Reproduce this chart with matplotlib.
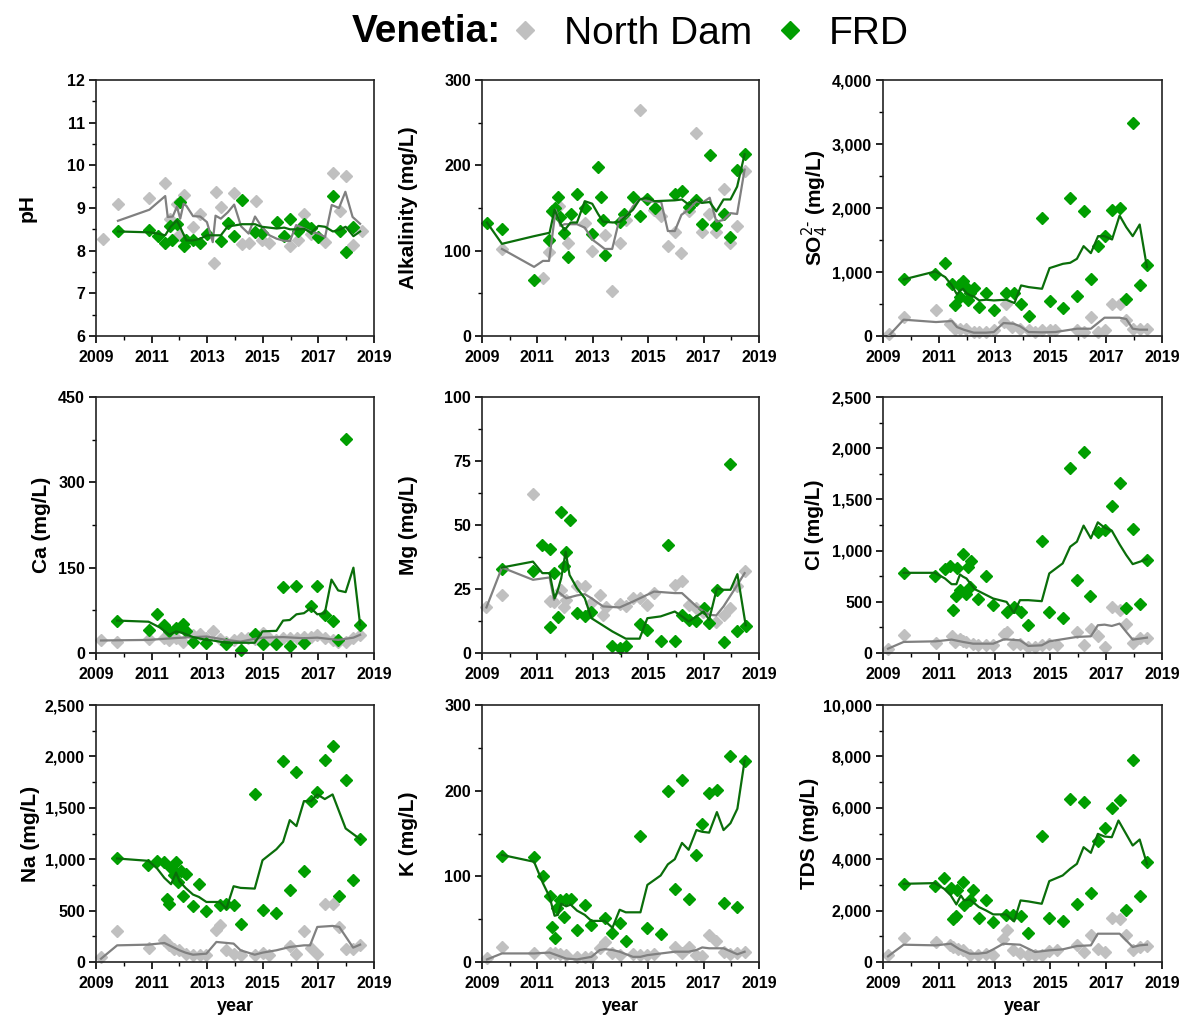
import numpy as np
import matplotlib
matplotlib.use("Agg")
import matplotlib.pyplot as plt
from matplotlib.lines import Line2D
from matplotlib.ticker import MultipleLocator, FuncFormatter

plt.rcParams['font.family'] = ['Liberation Sans', 'DejaVu Sans']

# ---------------- DATA (year, value) ----------------
PH_ND = [(2009.24,8.28),(2009.79,9.1),(2010.92,9.24),(2011.49,9.59),(2011.67,8.75),(2011.91,9.1),(2011.98,8.36),
         (2012.15,9.3),(2012.49,8.56),(2012.75,8.85),(2013.23,7.71),(2013.31,9.38),(2013.49,9.03),(2013.97,9.34),
         (2014.25,8.15),(2014.51,8.18),(2014.75,9.16),(2014.96,8.24),(2015.24,8.17),(2015.98,8.1),(2016.25,8.26),
         (2016.49,8.87),(2016.74,8.38),(2017.24,8.2),(2017.52,9.82),(2017.76,8.93),(2017.98,9.74),(2018.26,8.13),(2018.56,8.45)]
PH_FRD = [(2009.79,8.45),(2010.92,8.48),(2011.23,8.35),(2011.49,8.17),(2011.65,8.58),(2011.74,8.26),(2011.91,8.63),
          (2012.03,9.15),(2012.15,8.11),(2012.25,8.24),(2012.49,8.24),(2012.75,8.18),(2012.99,8.4),(2013.49,8.23),
          (2013.74,8.64),(2013.97,8.35),(2014.25,9.18),(2014.72,8.43),(2014.96,8.42),(2015.50,8.67),(2015.77,8.34),
          (2015.98,8.74),(2016.25,8.45),(2016.49,8.62),(2016.74,8.53),(2017.0,8.32),(2017.52,9.28),(2017.76,8.45),
          (2017.98,7.97),(2018.26,8.56)]
PH_ND_AVG = [(2009.79,8.7),(2010.92,8.96),(2011.49,9.28),(2011.58,8.79),(2011.76,8.8),(2011.91,9.03),(2012.03,8.75),
             (2012.15,9.1),(2012.25,9.05),(2012.49,8.81),(2012.75,8.8),(2012.99,8.67),(2013.2,8.2),(2013.3,8.82),
             (2013.49,8.75),(2013.74,8.9),(2013.97,9.08),(2014.22,8.57),(2014.49,8.4),(2014.72,8.8),(2014.96,8.56),
             (2015.24,8.36),(2015.5,8.28),(2015.77,8.23),(2015.98,8.23),(2016.2,8.6),(2016.49,8.52),(2016.74,8.44),
             (2017.0,8.4),(2017.24,8.32),(2017.48,9.07),(2017.74,9.0),(2017.97,9.38),(2018.23,8.79),(2018.5,8.63)]
PH_FRD_AVG = [(2009.79,8.45),(2010.92,8.43),(2011.23,8.40),(2011.49,8.36),(2011.67,8.55),(2011.91,8.71),(2012.03,8.55),
              (2012.25,8.24),(2012.49,8.24),(2012.75,8.28),(2012.99,8.36),(2013.49,8.36),(2013.74,8.57),(2013.97,8.59),
              (2014.25,8.62),(2014.72,8.62),(2014.96,8.56),(2015.50,8.52),(2015.77,8.54),(2015.98,8.5),(2016.25,8.5),
              (2016.49,8.51),(2016.74,8.42),(2017.0,8.58),(2017.24,8.56),(2017.52,8.45),(2017.76,8.49),(2017.98,8.56),
              (2018.26,8.34),(2018.5,8.45)]

ALK_ND = [(2009.72,102),(2011.2,68),(2011.42,99),(2011.78,152),(2012.1,109),(2012.71,132),(2012.98,100),(2013.43,118),
          (2013.7,53),(2013.97,109),(2014.21,136),(2014.72,265),(2015.21,148),(2015.47,141),(2015.71,105),(2015.96,122),
          (2016.2,97),(2016.46,146),(2016.74,238),(2016.94,122),(2017.2,143),(2017.46,122),(2017.72,172),(2017.97,109),
          (2018.21,129),(2018.48,193)]
ALK_FRD = [(2009.18,133),(2009.72,125),(2010.88,66),(2011.42,112),(2011.54,146),(2011.63,150),(2011.75,163),(2011.83,140),
           (2011.95,121),(2012.1,92),(2012.2,143),(2012.43,166),(2012.71,150),(2012.98,120),(2013.19,198),(2013.28,163),
           (2013.37,136),(2013.43,95),(2013.99,134),(2014.11,143),(2014.45,163),(2014.69,141),(2014.97,160),(2015.23,150),
           (2015.96,166),(2016.22,170),(2016.46,151),(2016.74,159),(2016.94,131),(2017.22,212),(2017.46,130),(2017.72,143),
           (2017.97,116),(2018.21,194),(2018.48,213)]
ALK_ND_AVG = [(2009.72,102),(2010.88,81),(2011.2,88),(2011.42,88),(2011.66,148),(2011.83,129),(2011.98,131),(2012.2,131),
              (2012.43,131),(2012.71,127),(2012.98,113),(2013.19,108),(2013.43,102),(2013.7,102),(2013.97,138),(2014.21,140),
              (2014.45,152),(2014.72,161),(2014.97,158),(2015.47,157),(2015.71,123),(2015.96,123),(2016.2,142),(2016.46,148),
              (2016.74,158),(2016.94,156),(2017.22,162),(2017.46,134),(2017.72,136),(2017.97,144),(2018.21,143),(2018.48,195)]
ALK_FRD_AVG = [(2009.18,133),(2009.72,108),(2010.88,117),(2011.44,121),(2011.62,148),(2011.83,132),(2011.98,124),(2012.2,133),
               (2012.43,133),(2012.71,158),(2012.98,155),(2013.19,143),(2013.37,134),(2013.73,133),(2013.99,134),(2014.11,138),
               (2014.45,148),(2014.69,160),(2014.97,162),(2015.23,158),(2015.96,159),(2016.22,160),(2016.46,154),(2016.74,160),
               (2016.94,156),(2017.22,157),(2017.46,146),(2017.72,160),(2017.97,160),(2018.21,175),(2018.48,213)]

SO4_ND = [(2009.2,36),(2009.74,296),(2010.9,411),(2011.41,192),(2011.59,114),(2011.77,114),(2011.99,114),(2012.25,62),
          (2012.43,62),(2012.7,62),(2012.97,88),(2013.32,218),(2013.42,504),(2013.62,140),(2013.92,114),(2014.22,88),
          (2014.46,62),(2014.7,88),(2014.97,88),(2015.18,88),(2015.95,88),(2016.22,62),(2016.45,296),(2016.71,62),
          (2016.94,88),(2017.21,504),(2017.48,504),(2017.72,244),(2017.95,114),(2018.2,114),(2018.46,114)]
SO4_FRD = [(2009.74,884),(2010.88,962),(2011.23,1144),(2011.47,816),(2011.57,478),(2011.71,790),(2011.77,608),(2011.87,858),
           (2011.99,764),(2012.03,556),(2012.13,671),(2012.25,754),(2012.45,452),(2012.7,676),(2012.97,400),(2013.42,671),
           (2013.71,671),(2013.95,504),(2014.22,307),(2014.7,1846),(2014.97,546),(2015.45,437),(2015.71,2153),(2015.95,619),
           (2016.19,1950),(2016.45,884),(2016.71,1414),(2016.94,1560),(2017.21,1971),(2017.48,2002),(2017.72,572),
           (2017.95,3328),(2018.2,790),(2018.46,1102)]
SO4_ND_AVG = [(2009.2,0),(2009.74,255),(2010.9,218),(2011.47,234),(2011.65,140),(2011.89,99),(2012.25,52),(2012.7,52),
              (2012.97,62),(2013.32,203),(2013.68,192),(2013.92,151),(2014.22,62),(2014.7,57),(2015.18,62),(2015.95,114),
              (2016.45,114),(2016.94,286),(2017.48,286),(2017.72,265),(2017.95,114),(2018.2,99),(2018.46,99)]
SO4_FRD_AVG = [(2009.74,884),(2010.88,1009),(2011.23,920),(2011.47,790),(2011.65,650),(2011.77,712),(2011.87,738),
               (2011.99,671),(2012.13,634),(2012.25,619),(2012.45,556),(2012.7,567),(2012.97,556),(2013.42,567),(2013.71,515),
               (2013.95,790),(2014.22,764),(2014.7,738),(2014.97,1061),(2015.45,1128),(2015.71,1144),(2015.95,1206),
               (2016.19,1404),(2016.45,1295),(2016.71,1560),(2016.94,1560),(2017.21,1508),(2017.48,1882),(2017.72,1700),
               (2017.95,1560),(2018.2,1742),(2018.46,1076)]

CA_ND = [(2009.18,22),(2009.76,20),(2010.89,25),(2011.46,26),(2011.64,22),(2011.88,27),(2012.13,20),(2012.49,32),
         (2012.73,33),(2012.97,26),(2013.2,38),(2013.45,25),(2013.69,20),(2013.95,22),(2014.2,26),(2014.46,26),
         (2014.71,25),(2014.99,35),(2015.23,26),(2015.49,22),(2015.73,26),(2015.97,26),(2016.23,27),(2016.47,29),
         (2016.73,29),(2016.96,31),(2017.23,26),(2017.51,23),(2017.71,20),(2017.98,19),(2018.26,27),(2018.5,31)]
CA_FRD = [(2009.76,57),(2010.89,40),(2011.2,68),(2011.46,49),(2011.64,38),(2011.88,44),(2012.13,51),(2012.22,38),
          (2012.49,20),(2012.97,18),(2013.69,15),(2014.2,6),(2014.71,33),(2014.99,16),(2015.49,16),(2015.73,116),
          (2015.97,12),(2016.21,118),(2016.48,18),(2016.73,82),(2016.96,118),(2017.23,67),(2017.51,57),(2017.71,23),
          (2017.98,376),(2018.5,49)]
CA_ND_AVG = [(2009.18,22),(2010.89,23),(2011.46,25),(2012.13,27),(2012.97,29),(2013.69,23),(2014.2,20),(2014.71,25),
             (2014.99,27),(2015.73,28),(2016.48,26),(2016.96,27),(2017.71,23),(2018.26,27),(2018.5,32)]
CA_FRD_AVG = [(2009.76,57),(2010.89,55),(2011.29,45),(2011.64,32),(2011.88,38),(2012.13,35),(2012.49,28),(2012.97,23),
              (2013.2,22),(2013.69,18),(2014.2,18),(2014.71,18),(2014.99,38),(2015.49,39),(2015.73,57),(2015.97,58),
              (2016.21,68),(2016.48,70),(2016.73,79),(2016.96,68),(2017.23,70),(2017.47,129),(2017.71,110),(2017.98,107),
              (2018.26,150),(2018.5,50)]

MG_ND = [(2009.16,17.8),(2009.72,22.7),(2010.84,62),(2011.44,20.4),(2011.6,20.1),(2011.86,24.7),(2011.96,17.8),
         (2012.04,20.8),(2012.43,26),(2012.71,26),(2012.95,19.5),(2013.25,22.7),(2013.37,14.9),(2013.46,17.8),
         (2013.97,19.1),(2014.19,18.2),(2014.45,21.4),(2014.69,21.4),(2014.97,18.6),(2015.21,23.6),(2015.96,26.6),
         (2016.22,28.2),(2016.46,18.8),(2016.74,17.5),(2016.98,16.2),(2017.2,11.7),(2017.46,12.1),(2017.72,14.9),
         (2017.97,17.5),(2018.22,26),(2018.48,32.1)]
MG_FRD = [(2009.72,32.7),(2010.84,32.1),(2011.18,42.2),(2011.44,40.7),(2011.47,10),(2011.6,31.2),(2011.74,13.9),
          (2011.84,55.2),(2011.96,33.8),(2012.04,39.6),(2012.19,52),(2012.43,15.8),(2012.71,14.3),(2012.95,16.2),
          (2013.71,2.9),(2013.97,1.9),(2014.19,2.6),(2014.69,11.3),(2014.97,9.1),(2015.45,4.5),(2015.71,42.2),
          (2015.96,4.5),(2016.22,14.9),(2016.46,13),(2016.74,12.6),(2017.0,17.5),(2017.2,11.7),(2017.48,24.7),
          (2017.72,4.3),(2017.97,73.8),(2018.22,8.4),(2018.52,10.4)]
MG_ND_AVG = [(2009.16,17.8),(2009.72,33.4),(2010.84,28.6),(2011.44,29.5),(2011.6,20.8),(2011.74,24),(2012.04,21.4),
             (2012.43,22.5),(2012.71,23),(2012.95,21.4),(2013.37,18.2),(2013.97,17.8),(2014.45,20.1),(2015.21,24),
             (2015.96,23.4),(2016.22,23.4),(2016.74,18.2),(2017.2,14.9),(2017.46,14.7),(2017.72,18.2),(2018.22,26.6),
             (2018.48,31.2)]
MG_FRD_AVG = [(2009.72,33.4),(2010.84,35.7),(2011.18,31.2),(2011.44,31.2),(2011.62,21.4),(2011.74,24.7),(2011.86,29.2),
              (2012.02,39.6),(2012.16,30.5),(2012.43,25.3),(2012.71,21.4),(2012.95,13.6),(2013.71,8.4),(2014.19,5.6),
              (2014.69,5.6),(2014.97,13.6),(2015.45,14.3),(2015.96,16.2),(2016.22,14.3),(2016.46,12.3),(2016.74,14.3),
              (2017.0,16.2),(2017.2,13),(2017.48,25.3),(2017.72,24.7),(2017.97,24.7),(2018.22,30.8),(2018.52,10.8)]

CL_ND = [(2009.18,42),(2009.74,180),(2010.89,101),(2011.46,166),(2011.57,108),(2011.75,134),(2011.87,114),(2011.99,108),
         (2012.23,91),(2012.41,81),(2012.69,81),(2012.95,81),(2013.34,189),(2013.43,206),(2013.67,91),(2013.91,91),
         (2014.21,59),(2014.45,59),(2014.69,81),(2014.96,91),(2015.22,81),(2015.95,206),(2016.19,81),(2016.45,238),
         (2016.7,166),(2016.94,59),(2017.2,450),(2017.48,418),(2017.72,287),(2017.95,101),(2018.2,147),(2018.46,150)]
CL_FRD = [(2009.74,777),(2010.86,751),(2011.22,816),(2011.4,849),(2011.51,418),(2011.63,558),(2011.66,832),(2011.75,614),
          (2011.87,966),(2011.99,581),(2012.05,842),(2012.11,646),(2012.15,898),(2012.41,532),(2012.69,754),(2012.95,467),
          (2013.43,401),(2013.69,450),(2013.93,401),(2014.21,277),(2014.69,1093),(2014.96,401),(2015.44,343),(2015.71,1805),
          (2015.95,712),(2016.19,1962),(2016.43,558),(2016.7,1185),(2016.94,1201),(2017.2,1439),(2017.48,1658),
          (2017.72,441),(2017.95,1211),(2018.2,483),(2018.46,907)]
CL_ND_AVG = [(2009.18,42),(2009.74,108),(2010.89,114),(2011.46,131),(2011.87,108),(2012.23,91),(2012.95,91),(2013.34,134),
             (2013.91,124),(2014.21,69),(2014.69,75),(2014.96,114),(2015.95,157),(2016.45,163),(2016.7,271),(2016.94,277),
             (2017.2,264),(2017.48,287),(2017.72,206),(2017.95,131),(2018.2,140),(2018.46,150)]
CL_FRD_AVG = [(2009.74,783),(2010.86,783),(2011.22,728),(2011.46,672),(2011.63,672),(2011.76,767),(2011.87,745),
              (2011.99,728),(2012.29,623),(2012.95,532),(2013.43,499),(2013.69,392),(2013.91,516),(2014.21,516),
              (2014.69,506),(2014.96,777),(2015.44,875),(2015.71,1038),(2015.95,1087),(2016.19,1244),(2016.45,1120),
              (2016.7,1276),(2016.94,1224),(2017.2,1195),(2017.48,1061),(2017.72,956),(2017.95,868),(2018.2,891),
              (2018.46,917)]

NA_ND = [(2009.18,49),(2009.76,302),(2010.89,140),(2011.46,211),(2011.62,162),(2011.82,130),(2012.0,114),(2012.22,81),
         (2012.49,71),(2012.73,65),(2012.97,71),(2013.33,308),(2013.45,364),(2013.69,114),(2013.95,81),(2014.2,65),
         (2014.71,65),(2014.99,91),(2015.23,65),(2015.97,156),(2016.21,81),(2016.48,302),(2016.73,140),(2016.96,81),
         (2017.23,562),(2017.51,562),(2017.75,341),(2017.98,123),(2018.25,130),(2018.5,162)]
NA_FRD = [(2009.76,1007),(2010.86,948),(2011.2,981),(2011.46,974),(2011.55,610),(2011.62,568),(2011.7,916),(2011.8,844),
          (2011.88,974),(2011.94,779),(2012.06,883),(2012.13,643),(2012.22,854),(2012.49,545),(2012.7,757),(2012.97,497),
          (2013.45,558),(2013.69,568),(2013.95,552),(2014.2,373),(2014.71,1630),(2014.99,503),(2015.49,481),(2015.73,1955),
          (2015.97,698),(2016.21,1844),(2016.48,883),(2016.73,1565),(2016.96,1656),(2017.23,1964),(2017.51,2101),
          (2017.75,640),(2017.98,1770),(2018.25,802),(2018.5,1192)]
NA_ND_AVG = [(2009.18,32),(2009.76,162),(2010.89,169),(2011.46,185),(2012.0,114),(2012.22,91),(2012.49,71),(2012.97,81),
             (2013.33,195),(2013.95,179),(2014.2,114),(2014.71,71),(2014.99,91),(2015.49,114),(2015.97,146),(2016.48,162),
             (2016.7,162),(2016.96,341),(2017.51,351),(2017.75,341),(2018.25,140),(2018.5,169)]
NA_FRD_AVG = [(2009.76,1007),(2010.89,984),(2011.2,909),(2011.46,818),(2011.7,757),(2011.88,870),(2012.0,786),(2012.22,721),
              (2012.49,656),(2012.7,633),(2012.97,584),(2013.45,584),(2013.69,519),(2013.95,737),(2014.2,721),(2014.71,714),
              (2014.99,990),(2015.49,1097),(2015.73,1169),(2015.97,1380),(2016.21,1322),(2016.48,1565),(2016.73,1565),
              (2016.96,1630),(2017.23,1585),(2017.51,1630),(2017.98,1299),(2018.5,1195)]

K_ND = [(2009.18,5),(2009.72,17),(2010.88,11),(2011.44,10),(2011.62,10),(2011.8,9),(2012.04,8),(2012.43,6),(2012.71,6),
        (2012.95,6),(2013.25,16),(2013.43,23),(2013.71,10),(2013.97,8),(2014.45,9),(2014.72,8),(2014.97,8),(2015.21,9),
        (2015.96,18),(2016.22,10),(2016.46,18),(2016.74,8),(2016.95,7),(2017.2,31),(2017.46,24),(2017.72,12),(2017.97,9),
        (2018.22,10),(2018.48,12)]
K_FRD = [(2009.72,123.5),(2010.88,122),(2011.2,100),(2011.44,77),(2011.53,41),(2011.62,28),(2011.71,63),(2011.8,72),
         (2011.95,53),(2012.04,73),(2012.2,73),(2012.43,37),(2012.71,67),(2012.95,43),(2013.43,51),(2013.71,34),
         (2013.97,46),(2014.19,25),(2014.72,147),(2014.97,40),(2015.45,33),(2015.71,200),(2015.96,85),(2016.22,212),
         (2016.46,73),(2016.74,125),(2016.95,161),(2017.2,197),(2017.48,201),(2017.72,69),(2017.97,240),(2018.22,64),
         (2018.48,235)]
K_ND_AVG = [(2009.18,3),(2009.72,10),(2010.88,10),(2011.44,11),(2012.04,4),(2012.43,3),(2012.95,6),(2013.25,14),
            (2013.43,15),(2013.71,14),(2013.97,12),(2014.45,6),(2014.72,6),(2014.97,8),(2015.96,12),(2016.46,12),
            (2016.74,14),(2016.95,17),(2017.2,16),(2017.72,16),(2018.22,9),(2018.48,12)]
K_FRD_AVG = [(2009.72,125),(2010.88,117),(2011.2,92),(2011.44,76),(2011.62,54),(2011.74,55),(2011.86,68),(2012.04,65),
             (2012.2,67),(2012.43,60),(2012.71,55),(2012.95,48),(2013.43,48),(2013.71,40),(2013.97,61),(2014.19,58),
             (2014.72,58),(2014.97,90),(2015.45,101),(2015.71,114),(2015.96,120),(2016.22,139),(2016.46,131),(2016.74,154),
             (2016.95,152),(2017.2,151),(2017.48,175),(2017.72,154),(2017.97,162),(2018.22,179),(2018.48,235)]

TDS_ND = [(2009.18,259),(2009.74,945),(2010.89,777),(2011.4,673),(2011.51,583),(2011.69,518),(2011.87,453),(2012.11,285),
          (2012.41,285),(2012.69,324),(2012.95,285),(2013.31,906),(2013.43,1230),(2013.67,453),(2013.91,363),(2014.21,285),
          (2014.45,285),(2014.69,285),(2014.96,414),(2015.23,453),(2015.95,673),(2016.19,389),(2016.45,1036),(2016.7,492),
          (2016.94,389),(2017.2,1709),(2017.48,1684),(2017.72,1062),(2017.95,453),(2018.2,583),(2018.46,622)]
TDS_FRD = [(2009.74,3043),(2010.86,2953),(2011.19,3263),(2011.43,2875),(2011.51,1658),(2011.61,1787),(2011.67,2810),
           (2011.85,3108),(2011.91,2202),(2012.11,2422),(2012.21,2810),(2012.44,1709),(2012.69,2422),(2012.95,1554),
           (2013.41,1813),(2013.67,1813),(2013.93,1774),(2014.21,1127),(2014.69,4921),(2014.96,1709),(2015.44,1580),
           (2015.71,6346),(2015.95,2266),(2016.19,6216),(2016.45,2694),(2016.7,4701),(2016.94,5206),(2017.2,5983),
           (2017.48,6320),(2017.72,2007),(2017.95,7874),(2018.2,2551),(2018.46,3885)]
TDS_ND_AVG = [(2009.18,220),(2009.74,673),(2010.89,648),(2011.43,712),(2011.75,492),(2012.11,324),(2012.41,324),
              (2012.71,363),(2012.95,492),(2013.31,712),(2013.91,673),(2014.45,389),(2014.96,453),(2015.44,492),
              (2015.95,622),(2016.45,648),(2016.7,1101),(2017.2,1101),(2017.48,1101),(2017.95,583),(2018.2,648),
              (2018.46,673)]
TDS_FRD_AVG = [(2009.74,3043),(2010.86,3069),(2011.19,2849),(2011.43,2590),(2011.63,2240),(2011.79,2590),(2011.91,2396),
               (2012.11,2435),(2012.44,2137),(2012.69,2007),(2012.95,1852),(2013.41,1852),(2013.7,1580),(2013.93,2396),
               (2014.21,2357),(2014.69,2266),(2014.96,3147),(2015.44,3367),(2015.71,3626),(2015.95,3820),(2016.19,4468),
               (2016.45,4248),(2016.7,4986),(2016.94,4882),(2017.2,4856),(2017.44,5504),(2017.95,4532),(2018.2,4766),
               (2018.46,3820)]

PANEL_LABELS = ["pH", "Alkalinity (mg/L)", r"SO$_4^{2\text{-}}$ (mg/L)",
                "Ca (mg/L)", "Mg (mg/L)", "Cl (mg/L)",
                "Na (mg/L)", "K (mg/L)", "TDS (mg/L)"]
Y_LIMITS = [(6, 12), (0, 300), (0, 4000), (0, 450), (0, 100), (0, 2500), (0, 2500), (0, 300), (0, 10000)]
Y_MAJOR = [1, 100, 1000, 150, 25, 500, 500, 100, 2000]
X_TICKS = [2009, 2011, 2013, 2015, 2017, 2019]
SERIES_NAMES = ["North Dam", "FRD"]

PANELS = [(PH_ND, PH_FRD, PH_ND_AVG, PH_FRD_AVG),
          (ALK_ND, ALK_FRD, ALK_ND_AVG, ALK_FRD_AVG),
          (SO4_ND, SO4_FRD, SO4_ND_AVG, SO4_FRD_AVG),
          (CA_ND, CA_FRD, CA_ND_AVG, CA_FRD_AVG),
          (MG_ND, MG_FRD, MG_ND_AVG, MG_FRD_AVG),
          (CL_ND, CL_FRD, CL_ND_AVG, CL_FRD_AVG),
          (NA_ND, NA_FRD, NA_ND_AVG, NA_FRD_AVG),
          (K_ND, K_FRD, K_ND_AVG, K_FRD_AVG),
          (TDS_ND, TDS_FRD, TDS_ND_AVG, TDS_FRD_AVG)]

# ---------------- STYLE ----------------
ND_MARK = "#C0C0C0"
FRD_MARK = "#009E00"
ND_LINE = "#808080"
FRD_LINE = "#0A6E0A"
MS = 6.3

W, H = 1184, 1019
fig = plt.figure(figsize=(W / 100, H / 100), dpi=100)

lefts = [96, 482, 883]
widths = [278, 277, 279]
tops = [80, 397, 705]
bottoms = [336, 653, 962]
# y-label centre x positions (pixels) for each panel
label_x = [27, 409, 815, 42, 409, 815, 30, 409, 810]

def fmt(v, pos):
    if abs(v - round(v)) < 1e-9:
        return f"{int(round(v)):,}"
    return f"{v:g}"

for i, (nd, frd, nd_avg, frd_avg) in enumerate(PANELS):
    r, c = divmod(i, 3)
    ax = fig.add_axes([lefts[c] / W, 1 - bottoms[r] / H, widths[c] / W, (bottoms[r] - tops[r]) / H])
    x, y = zip(*nd)
    ax.plot(x, y, ls="none", marker="D", ms=MS, color=ND_MARK, mec=ND_MARK, zorder=2, clip_on=False)
    x, y = zip(*frd)
    ax.plot(x, y, ls="none", marker="D", ms=MS, color=FRD_MARK, mec=FRD_MARK, zorder=2.5, clip_on=False)
    x, y = zip(*nd_avg)
    ax.plot(x, y, color=ND_LINE, lw=1.6, zorder=3)
    x, y = zip(*frd_avg)
    ax.plot(x, y, color=FRD_LINE, lw=1.6, zorder=3.5)

    ax.set_xlim(2009, 2019)
    ax.set_ylim(*Y_LIMITS[i])
    ax.set_xticks(X_TICKS)
    ax.xaxis.set_minor_locator(MultipleLocator(1))
    ax.yaxis.set_major_locator(MultipleLocator(Y_MAJOR[i]))
    ax.yaxis.set_minor_locator(MultipleLocator(Y_MAJOR[i] / 2))
    ax.yaxis.set_major_formatter(FuncFormatter(fmt))
    ax.tick_params(which="major", direction="out", length=5, width=1.2, labelsize=11.5, pad=3,
                   top=False, right=False)
    ax.tick_params(axis="x", which="major", pad=5)
    ax.tick_params(which="minor", direction="out", length=3, width=1.0, top=False, right=False)
    for lab in ax.get_xticklabels() + ax.get_yticklabels():
        lab.set_fontweight("bold")
    for sp in ax.spines.values():
        sp.set_linewidth(1.2)
        sp.set_color("#222222")
    ax.set_ylabel(PANEL_LABELS[i], fontsize=15, fontweight="bold", va="center", ha="center")
    ax.yaxis.set_label_coords((label_x[i] - lefts[c]) / widths[c], 0.5)
    if r == 2:
        ax.set_xlabel("year", fontsize=13, fontweight="bold", labelpad=5)

# ---------------- LEGEND ----------------
fig.text(426 / W, 0.969, "Venetia:", fontsize=28, fontweight="bold", ha="center", va="center")
handles = [Line2D([], [], ls="none", marker="D", ms=9, color=ND_MARK),
           Line2D([], [], ls="none", marker="D", ms=9, color=FRD_MARK)]
fig.legend(handles, SERIES_NAMES, loc="center", bbox_to_anchor=(707 / W, 0.967), ncol=2, frameon=False,
           fontsize=28, handletextpad=0.5, columnspacing=0.48, handlelength=1.0, borderaxespad=0, borderpad=0)

fig.savefig("out.png", dpi=100)
